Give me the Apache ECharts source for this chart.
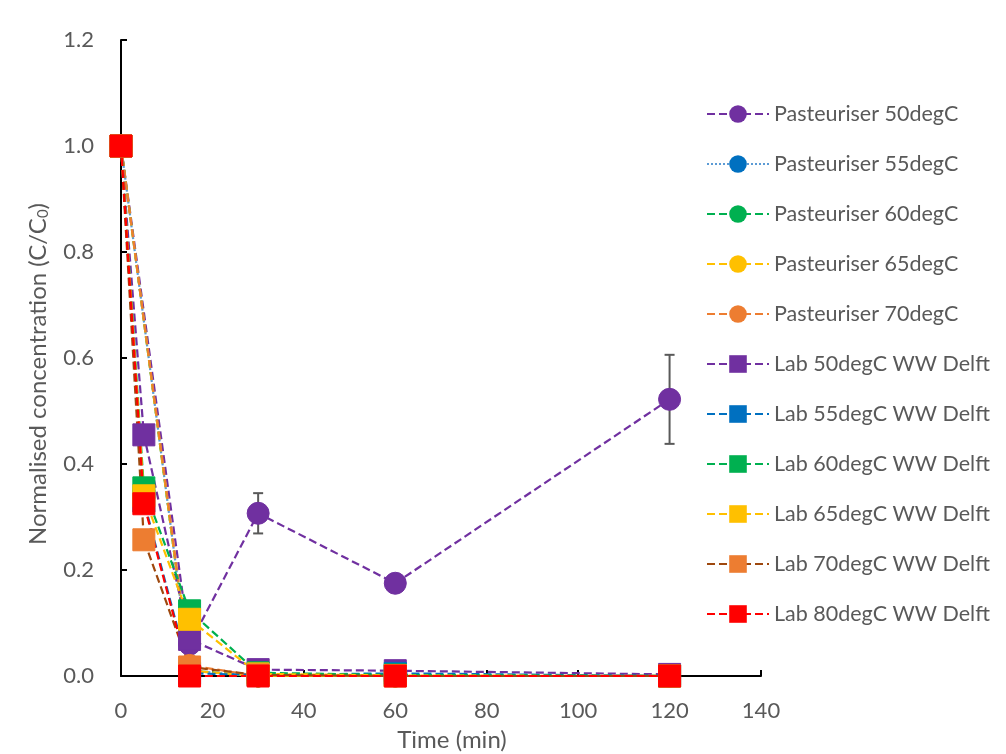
<!DOCTYPE html>
<html>
<head>
<meta charset="utf-8">
<script src="https://cdn.jsdelivr.net/npm/echarts@6/dist/echarts.min.js"></script>
<style>html,body{margin:0;padding:0;background:#fff;}#c{width:1006px;height:754px;}</style>
</head>
<body>
<div id="c"></div>
<script>
// ---- data ----
const labTimes = [0, 5, 15, 30, 60, 120];
const pastTimes = [0, 15, 30, 60, 120];

const past50 = [1.0, 0.06, 0.307, 0.175, 0.522];
const past50Err = [0, 0, 0.038, 0, 0.084];
const past55 = [1.0, 0.01, 0.0, 0.0, 0.0];
const past60 = [1.0, 0.01, 0.0, 0.0, 0.0];
const past65 = [1.0, 0.01, 0.0, 0.0, 0.0];
const past70 = [1.0, 0.02, 0.0, 0.0, 0.0];

const lab50 = [1.0, 0.455, 0.069, 0.012, 0.010, 0.003];
const lab55 = [1.0, 0.330, 0.005, 0.002, 0.005, 0.0];
const lab60 = [1.0, 0.355, 0.123, 0.006, 0.002, 0.0];
const lab65 = [1.0, 0.340, 0.107, 0.004, 0.001, 0.0];
const lab70 = [1.0, 0.257, 0.017, 0.002, 0.0, 0.0];
const lab80 = [1.0, 0.325, 0.0, 0.0, 0.0, 0.0];

const xTicks = [0, 20, 40, 60, 80, 100, 120, 140];
const yTicks = [0, 0.2, 0.4, 0.6, 0.8, 1.0, 1.2];

const seriesNames = ['Pasteuriser 50degC','Pasteuriser 55degC','Pasteuriser 60degC','Pasteuriser 65degC','Pasteuriser 70degC',
  'Lab 50degC WW Delft','Lab 55degC WW Delft','Lab 60degC WW Delft','Lab 65degC WW Delft','Lab 70degC WW Delft','Lab 80degC WW Delft'];

// ---- styling ----
const FONT = 'Lato, "Open Sans", sans-serif';
const TXT = '#595959';
const pairs = (xs, ys) => xs.map((x, i) => [x, ys[i]]);

function mkSeries(name, xs, ys, marker, markerColor, lineColor, dash) {
  return {
    name: name, type: 'line', data: pairs(xs, ys),
    symbol: marker, symbolSize: 22, clip: false,
    itemStyle: { color: markerColor, borderColor: markerColor },
    lineStyle: { color: lineColor, width: 2.2, type: dash },
    emphasis: { disabled: true }, animation: false
  };
}
const DASH = [8, 4];
const DOT = [2, 2];

const series = [
  mkSeries(seriesNames[0], pastTimes, past50, 'circle', '#7030A0', '#7030A0', DASH),
  mkSeries(seriesNames[1], pastTimes, past55, 'circle', '#0070C0', '#5B9BD5', DOT),
  mkSeries(seriesNames[2], pastTimes, past60, 'circle', '#00B050', '#00B050', DASH),
  mkSeries(seriesNames[3], pastTimes, past65, 'circle', '#FFC000', '#FFC000', DASH),
  mkSeries(seriesNames[4], pastTimes, past70, 'circle', '#ED7D31', '#ED7D31', DASH),
  mkSeries(seriesNames[5], labTimes, lab50, 'rect', '#7030A0', '#7030A0', DASH),
  mkSeries(seriesNames[6], labTimes, lab55, 'rect', '#0070C0', '#0070C0', DASH),
  mkSeries(seriesNames[7], labTimes, lab60, 'rect', '#00B050', '#00B050', DASH),
  mkSeries(seriesNames[8], labTimes, lab65, 'rect', '#FFC000', '#FFC000', DASH),
  mkSeries(seriesNames[9], labTimes, lab70, 'rect', '#ED7D31', '#9E480E', DASH),
  mkSeries(seriesNames[10], labTimes, lab80, 'rect', '#FF0000', '#FF0000', DASH),
  {
    type: 'custom', name: 'err', silent: true, animation: false, z: 1,
    data: pastTimes.map((x, i) => [x, past50[i] - past50Err[i], past50[i] + past50Err[i], past50Err[i]]),
    encode: { x: 0, y: [1, 2] },
    renderItem: function (params, api) {
      if (api.value(3) <= 0) return null;
      const lo = api.coord([api.value(0), api.value(1)]);
      const hi = api.coord([api.value(0), api.value(2)]);
      const hw = 5;
      const st = { stroke: '#595959', lineWidth: 2 };
      return { type: 'group', children: [
        { type: 'line', shape: { x1: lo[0], y1: lo[1], x2: hi[0], y2: hi[1] }, style: st },
        { type: 'line', shape: { x1: lo[0]-hw, y1: lo[1], x2: lo[0]+hw, y2: lo[1] }, style: st },
        { type: 'line', shape: { x1: hi[0]-hw, y1: hi[1], x2: hi[0]+hw, y2: hi[1] }, style: st }
      ]};
    }
  }
];

const chart = echarts.init(document.getElementById('c'), null, { renderer: 'canvas' });
chart.setOption({
  backgroundColor: '#fff',
  animation: false,
  textStyle: { fontFamily: FONT },
  grid: { left: 121, right: 245, top: 40, bottom: 78, containLabel: false, outerBoundsMode: 'none' },
  legend: {
    data: seriesNames, orient: 'vertical', left: 701, top: 98,
    itemWidth: 62, itemHeight: 22, itemGap: 28,
    textStyle: { fontFamily: FONT, fontSize: 21.5, color: TXT },
    selectedMode: false
  },
  xAxis: {
    type: 'value', min: xTicks[0], max: xTicks[xTicks.length - 1], interval: 20,
    name: 'Time (min)', nameLocation: 'middle', nameGap: 52,
    nameTextStyle: { fontFamily: FONT, fontSize: 24, color: TXT, padding: [0, 0, 0, 22] },
    axisLine: { show: true, onZero: false, lineStyle: { color: '#000', width: 2 } },
    axisTick: { show: true, inside: true, length: 6, lineStyle: { color: '#000', width: 2 } },
    axisLabel: { fontFamily: FONT, fontSize: 22, color: TXT, margin: 24 },
    splitLine: { show: false }
  },
  yAxis: {
    type: 'value', min: yTicks[0], max: yTicks[yTicks.length - 1], interval: 0.2,
    name: 'Normalised concentration (C/C{s|0})', nameLocation: 'middle', nameGap: 70,
    nameTextStyle: { fontFamily: FONT, fontSize: 24, color: TXT, padding: [0, 32, 0, 0],
      rich: { s: { fontFamily: FONT, fontSize: 15, color: TXT, padding: [11, 0, 0, 0] } } },
    axisLine: { show: true, onZero: false, lineStyle: { color: '#000', width: 2 } },
    axisTick: { show: true, inside: true, length: 6, lineStyle: { color: '#000', width: 2 } },
    axisLabel: { fontFamily: FONT, fontSize: 22, color: TXT, margin: 27, formatter: v => v.toFixed(1) },
    splitLine: { show: false }
  },
  series: series
});
</script>
</body>
</html>
